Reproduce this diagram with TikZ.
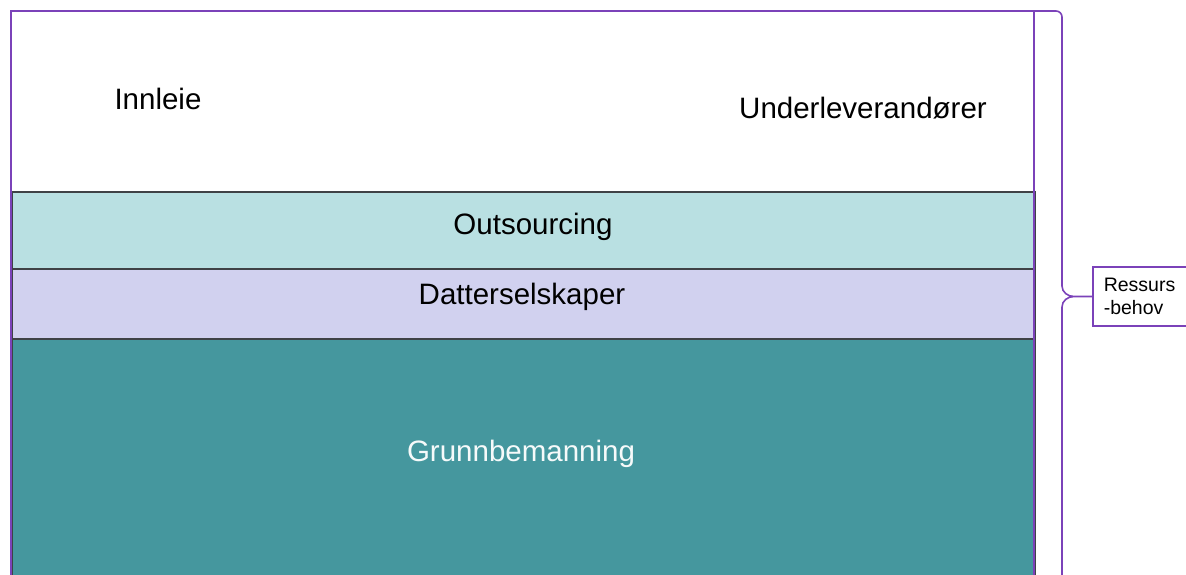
\documentclass[tikz,border=0pt]{standalone}
\usepackage{fontspec}
\setmainfont{Liberation Sans}
\definecolor{frame}{HTML}{7B42B9}
\definecolor{sep}{HTML}{3F4246}
\definecolor{outfill}{HTML}{B9E0E2}
\definecolor{datfill}{HTML}{D1D1EF}
\definecolor{grunnfill}{HTML}{45979E}
\begin{document}
\begin{tikzpicture}[x=1pt,y=-1pt,
  band/.style={draw=sep, line width=1.6pt, minimum width=1023pt, inner sep=0pt, anchor=north west},
  lbl/.style={font=\fontsize{29.5}{34}\selectfont, inner sep=0pt},
  framepen/.style={draw=frame, line width=2pt}]
\clip (0,0) rectangle (1186,575);

% stacked layers of the resource model
\node[band, fill=white, draw=none, minimum height=180pt] (top) at (11,11) {};
\node[band, fill=outfill, minimum height=77pt] (outs) at (11,191) {};
\node[band, fill=datfill, minimum height=70pt] (datt) at (11,268) {};
\node[band, fill=grunnfill, minimum height=260pt] (grunn) at (11,338) {};

% layer labels
\node[lbl] (innleie) at (158,99) {Innleie};
\node[lbl] (under) at (863,108) {Underleverandører};
\node[lbl] (outlbl) at (533,227) {Outsourcing};
\node[lbl] (datlbl) at (522,297) {Datterselskaper};
\node[lbl, text=white!95!grunnfill] (grunnlbl) at (521,454) {Grunnbemanning};

% outer frame
\coordinate (fbl) at (11,600);
\coordinate (ftl) at (11,11);
\coordinate (ftr) at (1034,11);
\coordinate (fbr) at (1034,600);
\draw[framepen] (fbl) -- (ftl) -- (ftr) -- (fbr);

% label box and curly brace
\node[draw=frame, line width=1.6pt, fill=white, anchor=west, minimum width=110pt,
      minimum height=59pt, inner xsep=11pt, align=left,
      font=\fontsize{19.5}{22.5}\selectfont] (need) at (1092,296.5)
      {\hbox to 88pt{Ressurs\hfil}\\-behov};
\coordinate (tip) at (1074,296.5);
\draw[framepen, line width=1.6pt, rounded corners=6pt]
  (ftr) -- (1062,11) -- (1062,40);
\draw[framepen, line width=1.6pt]
  (1062,30) -- (1062,286) to[out=-90,in=180] (tip)
  (tip) to[out=180,in=90] (1062,307) -- (1062,600)
  (tip) -- (need.west);
\end{tikzpicture}
\end{document}
